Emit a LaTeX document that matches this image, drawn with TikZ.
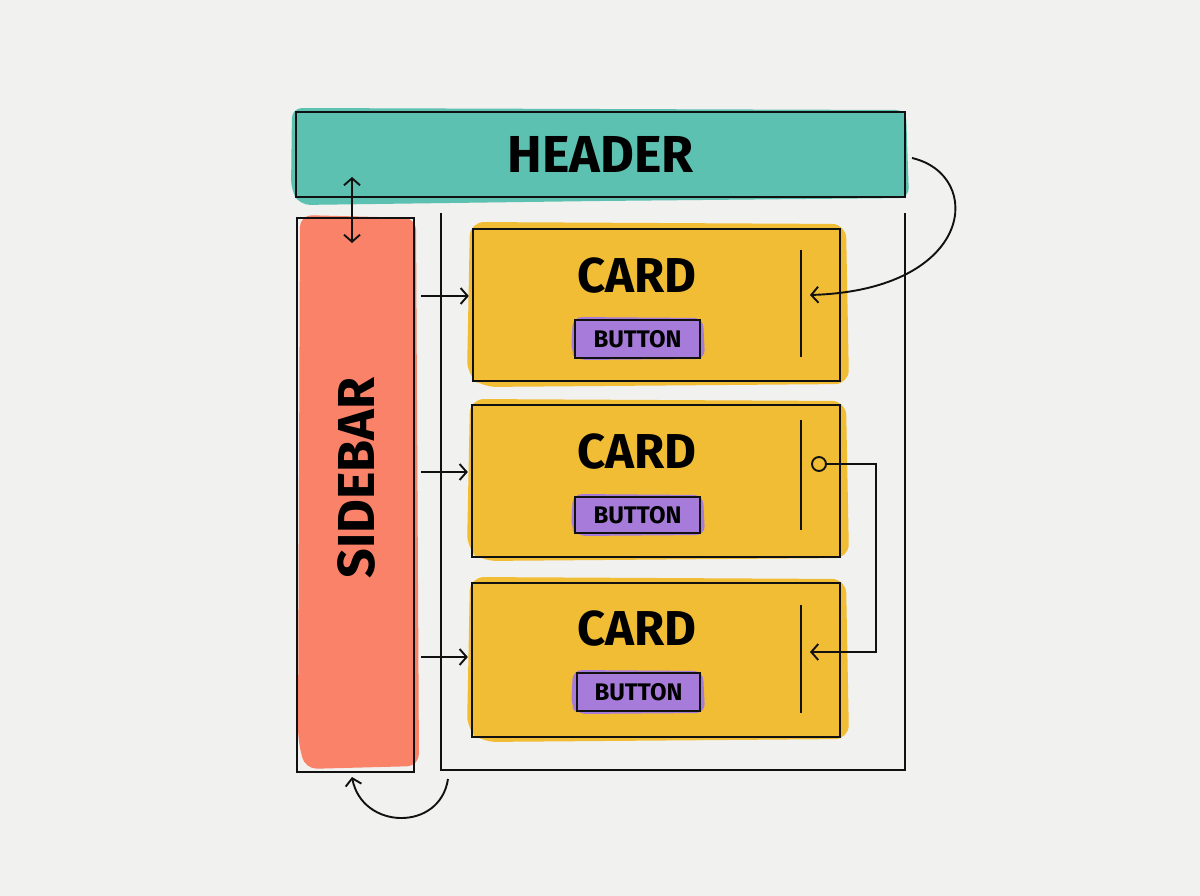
\documentclass[tikz,border=0pt]{standalone}
\usepackage{fontspec}
\setmainfont{Fira Sans}
\usetikzlibrary{arrows.meta,calc}
\definecolor{bg}{HTML}{F1F1F0}
\definecolor{teal}{HTML}{5CC1B0}
\definecolor{coral}{HTML}{FA8268}
\definecolor{cardy}{HTML}{F1BD35}
\definecolor{purp}{HTML}{A67BDA}
\definecolor{ink}{HTML}{111111}
\tikzset{
  box/.style={draw=ink, line width=2.3pt, inner sep=0pt},
  arr/.style={draw=ink, line width=1.9pt, -{Straight Barb[length=7pt,width=16pt,line width=1.9pt]}},
  arrtwo/.style={draw=ink, line width=1.9pt, {Straight Barb[length=7pt,width=16pt,line width=1.9pt]}-{Straight Barb[length=7pt,width=16pt,line width=1.9pt]}},
  big/.style={font=\fontsize{52}{52}\selectfont\bfseries},
  cardtxt/.style={font=\fontsize{49}{49}\selectfont\bfseries},
  btntxt/.style={font=\fontsize{24}{24}\selectfont\bfseries},
  divider/.style={draw=ink, line width=2pt},
}
\begin{document}
\begin{tikzpicture}[x=1pt,y=-1pt]
\useasboundingbox[fill=bg] (0,0) rectangle (1200,896);
% fills (sketchy offset)
\fill[teal, rounded corners=10pt] (292,108) -- (906,110) -- (909,198) -- (600,201) -- (300,205) -- (291,190) -- cycle;
\fill[coral, rounded corners=12pt] (300,215) -- (416,218) -- (419,766) -- (305,769) -- (298,740) -- cycle;
\foreach \ya/\yb in {222/387, 399/561, 577/742}{
  \fill[cardy, rounded corners=14pt] (470,\ya) -- (846,\ya+2) -- (849,\yb-3) -- (482,\yb) -- (467,\yb-12) -- cycle;
}
\foreach \ya/\yb in {317/360, 494/536, 670/714}{
  \fill[purp, rounded corners=9pt] (573,\ya) -- (703,\ya+1) -- (705,\yb-1) -- (577,\yb) -- (571,\yb-8) -- cycle;
}
% structure
\node[box, minimum width=609pt, minimum height=85pt, big] (header) at (600.5,154.5) {HEADER};
\node[box, minimum width=117pt, minimum height=554pt] (sidebar) at (355.5,495) {};
\node[big, rotate=90] (sidetxt) at (356,478) {SIDEBAR};
\node[minimum width=464pt, minimum height=557pt, inner sep=0pt] (main) at (673,491.5) {};
\draw[ink, line width=2.3pt] (main.north west) -- (main.south west) -- (main.south east) -- (main.north east);
% cards
\node[box, minimum width=367pt, minimum height=152pt] (card1) at (656.5,305) {};
\node[box, minimum width=368pt, minimum height=152pt] (card2) at (656,481) {};
\node[box, minimum width=368pt, minimum height=154pt] (card3) at (656,660) {};
\node[cardtxt] (card1t) at (637,276) {CARD};
\node[cardtxt] (card2t) at (637,452) {CARD};
\node[cardtxt] (card3t) at (637,629) {CARD};
\node[box, line width=2pt, minimum width=125pt, minimum height=38pt, btntxt] (btn1) at (637.5,339) {BUTTON};
\node[box, line width=2pt, minimum width=125pt, minimum height=36pt, btntxt] (btn2) at (637.5,515) {BUTTON};
\node[box, line width=2pt, minimum width=123pt, minimum height=38pt, btntxt] (btn3) at (638.5,692) {BUTTON};
\draw[divider] (801,250) -- (801,357);
\draw[divider] (801,420) -- (801,530);
\draw[divider] (801,605) -- (801,713);
% side arrows
\foreach \i/\y in {1/296, 2/472, 3/657}{
  \coordinate (s\i) at (421,\y);
  \draw[arr, shorten >=3pt] (s\i) -- (s\i -| card\i.west);
}
% header <-> sidebar
\coordinate (hs1) at (352,177);
\coordinate (hs2) at (352,243);
\draw[arrtwo] (hs1) -- (hs2);
% header -> card1
\coordinate (hr) at (912,158);
\coordinate (c1in) at (810,295);
\draw[arr] (hr) .. controls (985,175) and (975,290) .. (c1in);
% card2 -> card3
\node[circle, draw=ink, line width=1.9pt, minimum size=14pt, inner sep=0pt, fill=cardy] (dot) at (819,464) {};
\coordinate (c3in) at (810,652);
\draw[arr] (dot.east) -- (876,464) |- (c3in);
% main -> sidebar
\coordinate (mb) at (448,779);
\coordinate (sb) at (352,777);
\draw[arr] (mb) .. controls (440,832) and (362,830) .. (sb);
\end{tikzpicture}
\end{document}
